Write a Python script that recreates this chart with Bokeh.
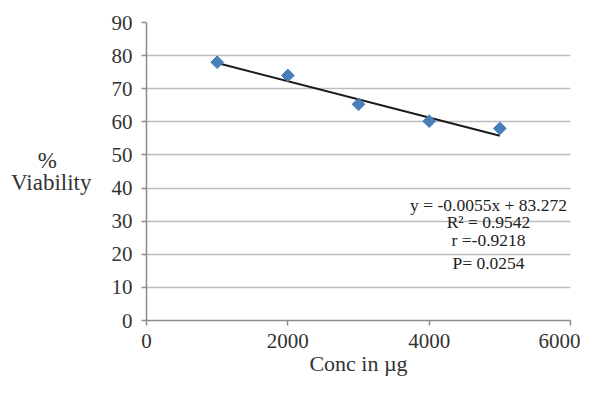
import math
from bokeh.plotting import figure
from bokeh.models import Range1d, FixedTicker, Label
from bokeh.embed import file_html
from bokeh.resources import INLINE

conc = [1000, 2000, 3000, 4000, 5000]
viability = [78, 74, 65.3, 60.2, 58]
slope = -0.0055
intercept = 83.272
x_ticks = [0, 2000, 4000, 6000]
y_ticks = [0, 10, 20, 30, 40, 50, 60, 70, 80, 90]
eq_lines = ["y = -0.0055x + 83.272", "R² = 0.9542", "r =-0.9218", "P= 0.0254"]
x_title = "Conc in µg"
y_title = "%" + "\u00a0" * 6 + "\nViability"

FONT = "Liberation Serif"

p = figure(width=580, height=378, output_backend="svg", toolbar_location=None,
           x_range=Range1d(0, 6000), y_range=Range1d(0, 90),
           min_border_left=146, min_border_right=10, min_border_top=22, min_border_bottom=56)
p.outline_line_color = None
p.background_fill_color = "white"

p.xaxis.ticker = FixedTicker(ticks=x_ticks)
p.yaxis.ticker = FixedTicker(ticks=y_ticks)
for ax in (p.xaxis, p.yaxis):
    ax.axis_line_color = "#8c8c8c"
    ax.axis_line_width = 1.5
    ax.major_tick_line_color = "#8c8c8c"
    ax.major_tick_line_width = 1.5
    ax.major_tick_in = 0
    ax.major_tick_out = 5
    ax.minor_tick_line_color = None
    ax.major_label_text_font = FONT
    ax.major_label_text_font_size = "21px"
    ax.major_label_text_color = "#333333"
    ax.axis_label_text_font = FONT
    ax.axis_label_text_font_size = "23px"
    ax.axis_label_text_font_style = "normal"
    ax.axis_label_text_color = "#333333"
p.xaxis.major_label_standoff = 8
p.yaxis.major_label_standoff = 9
p.xaxis.axis_label = x_title
p.xaxis.axis_label_text_font_size = "22px"
p.xaxis.axis_label_standoff = 0

p.yaxis.axis_label = y_title
p.yaxis.axis_label_orientation = "horizontal"
p.yaxis.axis_label_standoff = 17
p.yaxis.axis_label_text_line_height = 0.85

p.xgrid.grid_line_color = None
p.ygrid.grid_line_color = "#bdbdbd"
p.ygrid.grid_line_width = 1.5

# trendline
tx = [conc[0], conc[-1]]
ty = [slope * v + intercept for v in tx]
p.line(tx, ty, line_color="#1a1a1a", line_width=2)

p.scatter(conc, viability, marker="square", angle=math.pi / 4, size=9,
          fill_color="#4a7ebb", line_color="#4a7ebb")

eq_y = [34.8, 29.6, 24.2, 17.3]
for t, yy in zip(eq_lines, eq_y):
    p.add_layout(Label(x=4840, y=yy, text=t, text_font=FONT, text_font_size="17.5px",
                       text_align="center", text_baseline="middle", text_color="#222222"))

open("out.html", "w").write(file_html(p, INLINE))
